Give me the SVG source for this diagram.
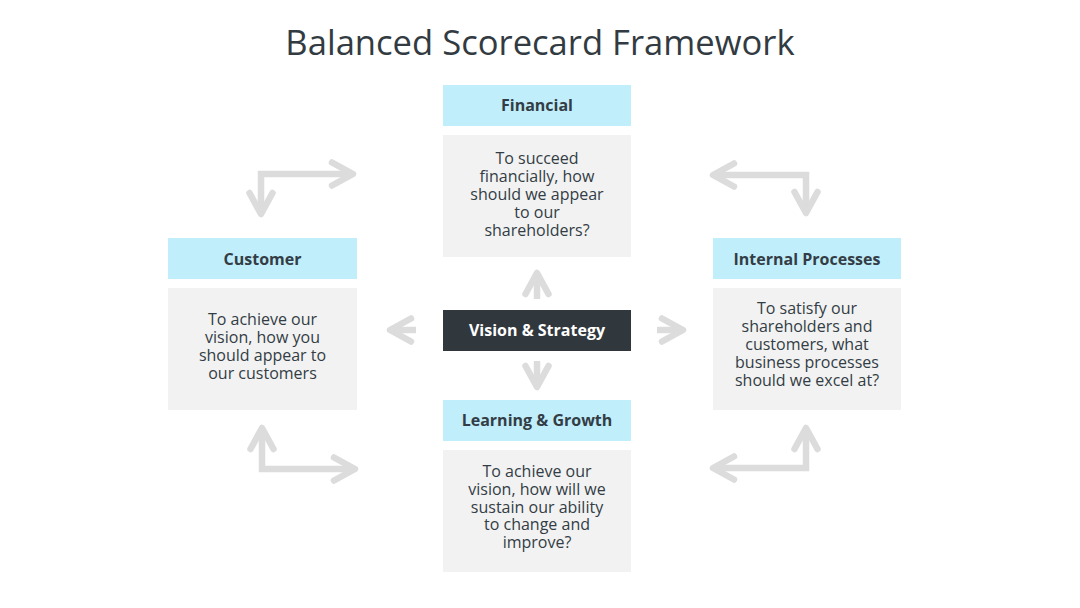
<svg xmlns="http://www.w3.org/2000/svg" width="1080" height="608" viewBox="0 0 1080 608">
  <style>
    .title { font-family: "Open Sans", "Noto Sans", sans-serif; font-size: 34.6px; fill: #333b42; }
    .hdr { fill: #c1eefb; }
    .body { fill: #f2f2f2; }
    .dark { fill: #30373d; }
    .htxt { font-family: "Open Sans", "Noto Sans", sans-serif; font-size: 16px; font-weight: bold; fill: #333d45; text-anchor: middle; }
    .vtxt { font-family: "Open Sans", "Noto Sans", sans-serif; font-size: 16px; font-weight: bold; fill: #ffffff; text-anchor: middle; }
    .btxt { font-family: "Open Sans", "Noto Sans", sans-serif; font-size: 16px; fill: #333d45; text-anchor: middle; }
    .arrow { fill: none; stroke: #dcdcdc; stroke-width: 6.5; stroke-linejoin: miter; marker-end: url(#chev); }
    .double { marker-start: url(#chev); }
  </style>
  <defs>
    <marker id="chev" markerUnits="userSpaceOnUse" viewBox="-28 -18 34 36" refX="0" refY="0" markerWidth="34" markerHeight="36" orient="auto-start-reverse">
      <path d="M-21,-11.5 L0,0 L-21,11.5" fill="none" stroke="#dcdcdc" stroke-width="6.5" stroke-linecap="round" stroke-linejoin="round"/>
    </marker>
  </defs>
  <rect width="1080" height="608" fill="#ffffff"/>
  <text class="title" x="540" y="55" text-anchor="middle">Balanced Scorecard Framework</text>

  <g id="connectors">
    <path class="arrow double" d="M261,214 V174 H353"/>
    <path class="arrow double" d="M713,175 H806 V213"/>
    <path class="arrow double" d="M262,428 V469 H355"/>
    <path class="arrow double" d="M713,468 H806 V428"/>
    <path class="arrow" d="M537,299 V273"/>
    <path class="arrow" d="M537,361 V387"/>
    <path class="arrow" d="M416,330 H390"/>
    <path class="arrow" d="M657,330 H683"/>
  </g>

  <g id="financial">
    <rect class="hdr" x="443" y="85" width="188" height="41"/>
    <text class="htxt" x="537" y="111">Financial</text>
    <rect class="body" x="443" y="135" width="188" height="122"/>
    <text class="btxt" x="537" y="164"><tspan x="537">To succeed</tspan><tspan x="537" dy="18">financially, how</tspan><tspan x="537" dy="18">should we appear</tspan><tspan x="537" dy="18">to our</tspan><tspan x="537" dy="18">shareholders?</tspan></text>
  </g>

  <g id="customer">
    <rect class="hdr" x="168" y="238" width="189" height="41"/>
    <text class="htxt" x="262.5" y="264.5">Customer</text>
    <rect class="body" x="168" y="288" width="189" height="122"/>
    <text class="btxt" x="262.5" y="325"><tspan x="262.5">To achieve our</tspan><tspan x="262.5" dy="18">vision, how you</tspan><tspan x="262.5" dy="18">should appear to</tspan><tspan x="262.5" dy="18">our customers</tspan></text>
  </g>

  <g id="internal-processes">
    <rect class="hdr" x="713" y="238" width="188" height="41"/>
    <text class="htxt" x="807" y="264.5">Internal Processes</text>
    <rect class="body" x="713" y="288" width="188" height="122"/>
    <text class="btxt" x="807" y="314"><tspan x="807">To satisfy our</tspan><tspan x="807" dy="18">shareholders and</tspan><tspan x="807" dy="18">customers, what</tspan><tspan x="807" dy="18">business processes</tspan><tspan x="807" dy="18">should we excel at?</tspan></text>
  </g>

  <g id="vision-strategy">
    <rect class="dark" x="443" y="310" width="188" height="41"/>
    <text class="vtxt" x="537" y="336">Vision &amp; Strategy</text>
  </g>

  <g id="learning-growth">
    <rect class="hdr" x="443" y="400" width="188" height="41"/>
    <text class="htxt" x="537" y="426">Learning &amp; Growth</text>
    <rect class="body" x="443" y="450" width="188" height="122"/>
    <text class="btxt" x="537" y="477"><tspan x="537">To achieve our</tspan><tspan x="537" dy="17.8">vision, how will we</tspan><tspan x="537" dy="17.8">sustain our ability</tspan><tspan x="537" dy="17.8">to change and</tspan><tspan x="537" dy="17.8">improve?</tspan></text>
  </g>
</svg>
